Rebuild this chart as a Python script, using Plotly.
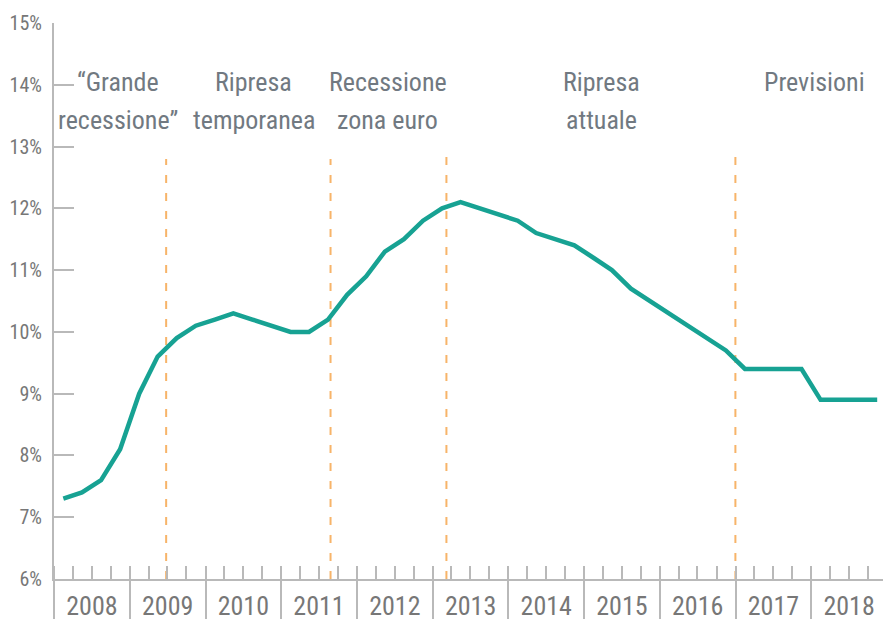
import datetime as dt
import plotly.graph_objects as go

# Quarterly unemployment rate (%), 2008Q1 - 2018Q4
years = list(range(2008, 2019))
quarterly_rate = [
    7.3, 7.4, 7.6, 8.1,      # 2008
    9.0, 9.6, 9.9, 10.1,     # 2009
    10.2, 10.3, 10.2, 10.1,  # 2010
    10.0, 10.0, 10.2, 10.6,  # 2011
    10.9, 11.3, 11.5, 11.8,  # 2012
    12.0, 12.1, 12.0, 11.9,  # 2013
    11.8, 11.6, 11.5, 11.4,  # 2014
    11.2, 11.0, 10.7, 10.5,  # 2015
    10.3, 10.1, 9.9, 9.7,    # 2016
    9.4, 9.4, 9.4, 9.4,      # 2017
    8.9, 8.9, 8.9, 8.9,      # 2018
]

# Phase boundaries (dashed lines) and the phase captions
phase_breaks = ["2009-06-25", "2011-08-27", "2013-03-08", "2016-12-31"]
phase_break_tops = [12.8, 12.8, 12.85, 12.9]
phase_titles = [
    ("“Grande", "recessione”"),
    ("Ripresa", "temporanea"),
    ("Recessione", "zona euro"),
    ("Ripresa", "attuale"),
    ("Previsioni", ""),
]
phase_title_x = ["2008-11-04", "2010-08-22", "2012-05-30", "2015-03-26", "2018-01-15"]

y_ticks = list(range(6, 16))

# mid-quarter dates
quarter_mid = [dt.date(y, m, 15) for y in years for m in (2, 5, 8, 11)]

FONT = "Liberation Sans Narrow, Roboto Condensed, Arial Narrow, sans-serif"
AXIS_GREY = "#b9b9b9"
TEXT_GREY = "#717981"
TEAL = "#17a293"
ORANGE = "#f7b469"

fig = go.Figure()
fig.add_trace(go.Scatter(
    x=quarter_mid, y=quarterly_rate, mode="lines",
    line=dict(color=TEAL, width=4.5),
    hoverinfo="skip", showlegend=False,
))

for x, top in zip(phase_breaks, phase_break_tops):
    fig.add_shape(type="line", xref="x", yref="y", x0=x, x1=x, y0=6, y1=top,
                  line=dict(color=ORANGE, width=2, dash="8px,10px"), layer="below")

for x, (l1, l2) in zip(phase_title_x, phase_titles):
    fig.add_annotation(x=x, y=14.05, xref="x", yref="y", text=l1, showarrow=False,
                       font=dict(family=FONT, size=26, color=TEXT_GREY),
                       xanchor="center", yanchor="middle")
    if l2:
        fig.add_annotation(x=x, y=13.43, xref="x", yref="y", text=l2, showarrow=False,
                           font=dict(family=FONT, size=26, color=TEXT_GREY),
                           xanchor="center", yanchor="middle")

fig.update_layout(
    width=883, height=621,
    margin=dict(l=54, r=0, t=23, b=42),
    plot_bgcolor="white", paper_bgcolor="white",
    font=dict(family=FONT, color="#777777"),
    showlegend=False,
)
fig.update_xaxes(
    type="date", automargin=False,
    range=["2008-01-01", "2018-12-13"],
    tick0="2008-01-01", dtick="M12", tickformat="%Y",
    ticklabelmode="period",
    ticks="outside", ticklen=38, tickwidth=1.5, tickcolor=AXIS_GREY,
    ticklabelstandoff=-35,
    tickfont=dict(family=FONT, size=26, color="#777777"),
    minor=dict(dtick="M3", tick0="2008-01-01", ticks="inside", ticklen=13,
               tickwidth=1.5, tickcolor=AXIS_GREY, showgrid=False),
    showline=True, linecolor=AXIS_GREY, linewidth=2,
    showgrid=False, zeroline=False,
)
fig.update_yaxes(
    automargin=False,
    range=[6, 15], tickvals=y_ticks, ticktext=[f"{v}%" for v in y_ticks],
    ticks="inside", ticklen=20, tickwidth=2, tickcolor=AXIS_GREY,
    ticklabelstandoff=6,
    tickfont=dict(family=FONT, size=20, color="#777777"),
    showline=True, linecolor=AXIS_GREY, linewidth=2,
    showgrid=False, zeroline=False,
)

fig.write_html("out.html")
